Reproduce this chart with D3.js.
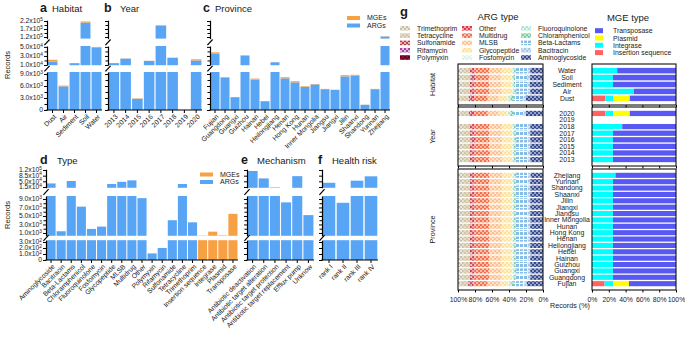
<!DOCTYPE html>
<html><head><meta charset="utf-8">
<script src="https://cdn.jsdelivr.net/npm/d3@7"></script>
<style>
body{margin:0;background:#fff}
svg{display:block}
text{font-family:"Liberation Sans",Arial,Helvetica,sans-serif;fill:#1a1a1a}
</style>
</head><body>
<svg id="c" width="685" height="337"></svg>
<script>
// ---------------- DATA ----------------
const habitatCats=["Dust","Air","Sediment","Soil","Water"];
const habitatARG=[17500,5900,14000,210000,49000];
const habitatMGE=[4000,200,300,7000,1000];

const yearCats=["2013","2014","2015","2016","2017","2018","2019","2020"];
const yearARG=[14000,24000,2800,19000,190000,26000,0,20000];
const yearMGE=[300,400,100,300,4000,200,0,2500];

const provinceCats=["Fujian","Guangdong","Guangxi","Guizhou","Hainan","Hebei","Heilongjiang","Henan","Hong Kong","Hunan","Inner Mongolia","Jiangsu","Jiangxi","Jilin","Shaanxi","Shandong","Yunnan","Zhejiang"];
const provinceARG=[35000,8000,3200,31000,7600,2200,16000,7900,6900,5800,6400,5200,5000,8400,8600,1300,5200,123000];
const provinceMGE=[3000,200,50,300,250,30,200,300,300,150,100,80,80,300,200,30,80,1500];

const typeCats=["Aminoglycoside","Bacitracin","Beta-Lactams","Chloramphenicol","Fluoroquinolone","Fosfomycin","Glycopeptide","MLSB","Multidrug","Other","Polymyxin","Rifamycin","Sulfonamide","Tetracycline","Trimethoprim","Insertion sequence","Integrase","Plasmid","Transposase"];
const typeARG=[37000,1400,52000,7200,1950,2500,33500,47000,56000,9200,110,200,4000,33500,3500,0,0,0,0];
const typeMGE=[0,0,0,0,0,0,0,0,0,0,0,0,0,0,0,400,1300,450,5500];

const mechCats=["Antibiotic deactivation","Antibiotic target alteration","Antibiotic target protection","Antibiotic target replacement","Efflux pump","Unknow"];
const mechARG=[114000,68000,13000,8200,82000,5200];
const mechMGE=[0,0,0,0,0,0];

const riskCats=["rank I","rank II","rank III","rank IV"];
const riskARG=[41000,8100,54000,81000];
const riskMGE=[0,0,0,0];

// tick values of the broken axes
const topTicksLow=[0,3000,6000,9000], topTicksMid=[10000,30000,50000], topTicksHigh=[120000,170000,220000];
const topMinorLow=[1500,4500,7500], topMinorMid=[20000,40000], topMinorHigh=[145000,195000];
const botTicksLow=[0,100,200,300], botTicksMid=[1000,3000,5000,7000,9000], botTicksHigh=[15000,50000,85000,120000];
const botMinorMid=[2000,4000,6000,8000];

// panel g composition (%)
const argTypes=["Trimethoprim","Tetracycline","Sulfonamide","Rifamycin","Polymyxin","Other","Multidrug","MLSB","Glycopeptide","Fosfomycin","Fluoroquinolone","Chloramphenicol","Beta-Lactams","Bacitracin","Aminoglycoside"];
const mgeTypes=["Insertion sequence","Integrase","Plasmid","Transposase"];

const argHabitat=[ // Dust, Air, Sediment, Soil, Water
 [3,10,1.5,1.5,0.5,2.5,16,13,10,1,3,4,11,3,20],
 [6,8,1.5,1,0.5,2.5,17,15,12,1,2,2,13.5,3,15],
 [5.5,8.5,1.5,1,0.5,2.5,17,15,11.5,1,1.5,2,14,3,15.5],
 [6,8.5,1.5,1,0.5,2.5,16,14,12,1,1.5,2,14,3.5,15],
 [6,8,1.5,1,0.5,2.5,17,15,12,1,1.5,2,14,3,15]
];
const argYear=[ // 2013..2020
 [6,8,1.5,1,0.5,2.5,17,16,11,1,1.5,2,14,3,15],
 [6,8,1.5,1,0.5,2.5,18,15,11,1,1.5,2,14,3,15],
 [6,8,1.5,1,0.5,2.5,17,15,12,1,1.5,2,14,3,15],
 [6,8.5,1.5,1,0.5,2.5,17,15,12,1,1.5,2,13.5,3,15],
 [6,8,1.5,1,0.5,2.5,17,15,12,1,1.5,2,14,3,15],
 [6,8,1.5,1,0.5,2.5,17,15,12,1,1.5,2,14,3,15],
 [0,0,0,0,0,0,0,0,0,0,0,0,0,0,0],
 [3,10,1.5,1.5,0.5,2.5,16,13,10,1,3,4,11,3,20]
];
const argProvince=[ // Fujian..Zhejiang
 [3,9,1.5,1.5,0.5,2.5,17,15,9,1,3,3,12,3,19],
 [6,8,1.5,1,0.5,2.5,17,15,12,1,1.5,2,14,3,15],
 [6,8,1.5,1,0.5,2.5,17,15,12,1,2,2,13.5,3,15],
 [6,8,1.5,1,0.5,2.5,17,15,12,1,1.5,2,14,3,15],
 [6,8,1.5,1,0.5,2.5,17,15,12,1,1.5,2,14,3,15],
 [6,8,1.5,1,0.5,2.5,17,15,12,1,1.5,2,14,3,15],
 [6,8,1.5,1,0.5,2.5,17,15,12,1,1.5,2,14,3,15],
 [6,8,1.5,1,0.5,2.5,17,15,12,1,1.5,2,14,3,15],
 [6,8,1.5,1,0.5,2.5,17,15,12,1,1.5,2,14,3,15],
 [6,8,1.5,1,0.5,2.5,17,15,12,1,1.5,2,14,3,15],
 [6,8,1.5,1,0.5,2.5,17,15,12,1,1.5,2,14,3,15],
 [6,8,1.5,1,0.5,2.5,17,15,12,1,1.5,2,14,3,15],
 [6,8,1.5,1,0.5,2.5,17,15,12,1,1.5,2,14,3,15],
 [6,8,1.5,1,0.5,2.5,17,15,12,1,1.5,2,14,3,15],
 [6,8,1.5,1,0.5,2.5,17,15,12,1,1.5,2,14,3,15],
 [6,8,1.5,1,0.5,2.5,17,15,12,1,1.5,2,14,3,15],
 [6,8,1.5,1,0.5,2.5,17,15,12,1,1.5,2,14,3,15],
 [6,8,1.5,1,0.5,2.5,17,15.5,12,1,1.5,2,14,3,14.5]
];
const mgeHabitat=[[16,9,20,55],[0,50,0,50],[0,25,0,75],[0,25,0,75],[0,30,0,70]];
const mgeYear=[[0,25,0,75],[0,25,0,75],[0,25,0,75],[0,25,0,75],[0,25,0,75],[0,36,0,64],[0,0,0,0],[16,9,20,55]];
const mgeProvince=[[15,10,19,56],[0,25,0,75],[0,25,0,75],[0,25,0,75],[0,25,0,75],[0,25,0,75],[0,25,0,75],[0,25,0,75],[0,25,0,75],[0,25,0,75],[0,25,0,75],[0,25,0,75],[0,25,0,75],[0,25,0,75],[0,25,0,75],[0,25,0,75],[0,25,0,75],[0,28,0,72]];
const pctTicks=[0,20,40,60,80,100];

// ---------------- STYLE ----------------
const BLUE="#58a5f6", ORANGE="#f8a044";
const argStyles=[
 {base:"#ebe7dd",fg:"#c8bfaa"},{base:"#e4dbc4",fg:"#d3c7a8"},{base:"#eeb0b0",fg:"#b8404c"},
 {base:"#e6b8e3",fg:"#a3479c"},{base:"#8a1030",fg:"#6a0020"},{base:"#f7a0a6",fg:"#e0384a"},
 {base:"#fcbca6",fg:"#f2704e"},{base:"#fee3c8",fg:"#fbc296"},{base:"#fff2c8",fg:"#fde1a0"},
 {base:"#f1fbf6",fg:"#daf3e7"},{base:"#e0f5eb",fg:"#b3e4cf"},{base:"#c2eacf",fg:"#7ecb9f"},
 {base:"#ffffff",fg:"#86bde8"},{base:"#d3e4f4",fg:"#a9c8e8"},{base:"#94a2cc",fg:"#3a4b8c"}
];
const mgeColors={"Insertion sequence":"#ff6262","Integrase":"#00ffff","Plasmid":"#ffff00","Transposase":"#5858f2"};

const svg=d3.select("#c");
const defs=svg.append("defs");
argStyles.forEach((s,i)=>{
  const p=defs.append("pattern").attr("id","pat"+i).attr("patternUnits","userSpaceOnUse").attr("width",4).attr("height",4);
  p.append("rect").attr("width",4).attr("height",4).attr("fill",s.base);
  if(i===12){
    p.append("rect").attr("x",0).attr("y",0).attr("width",3).attr("height",3).attr("fill",s.fg);
  } else {
    p.append("rect").attr("x",0).attr("y",0).attr("width",2).attr("height",2).attr("fill",s.fg);
    p.append("rect").attr("x",2).attr("y",2).attr("width",2).attr("height",2).attr("fill",s.fg);
  }
});

function sciLabel(sel,v){
  if(v===0){sel.text("0");return;}
  const [m,e]=v.toExponential(1).split("e");
  sel.append("tspan").text(m+"x10");
  sel.append("tspan").attr("dy",-2.8).attr("font-size",4.8).text(+e);
}

function barPanel(o){
  const g=svg.append("g");
  const x=d3.scaleBand().domain(o.cats).range([o.x0,o.x1]).paddingInner(0.1).paddingOuter(0.05);
  const segs=o.segs.map(s=>Object.assign({},s,{sc:d3.scaleLinear().domain(s.d).range(s.r)}));
  const pieces=[];
  o.cats.forEach((c,i)=>{
    const parts=[{f:0,t:o.arg[i],col:BLUE},{f:o.arg[i],t:o.arg[i]+o.mge[i],col:ORANGE}];
    parts.forEach(p=>{
      if(p.t<=p.f) return;
      segs.forEach(s=>{
        if(p.t<=s.d[0]||p.f>=s.d[1]) return;
        pieces.push({c,col:p.col,y0:s.sc(Math.max(p.f,s.d[0])),y1:s.sc(Math.min(p.t,s.d[1]))});
      });
    });
  });
  g.selectAll("rect.bar").data(pieces).join("rect").attr("class","bar")
    .attr("x",d=>x(d.c)).attr("width",x.bandwidth())
    .attr("y",d=>d.y1).attr("height",d=>Math.max(0,d.y0-d.y1)).attr("fill",d=>d.col);
  // y axis segments
  segs.forEach(s=>{
    const ax=g.append("g").attr("transform",`translate(${o.x0},0)`)
      .call(d3.axisLeft(s.sc).tickValues(s.major).tickSize(3).tickSizeOuter(0).tickFormat(""));
    ax.select(".domain").attr("stroke","#000").attr("stroke-width",1.2);
    ax.selectAll(".tick line").attr("stroke","#000").attr("stroke-width",1);
    if(s.minor&&s.minor.length){
      const mx=g.append("g").attr("transform",`translate(${o.x0},0)`)
        .call(d3.axisLeft(s.sc).tickValues(s.minor).tickSize(2.5).tickFormat(""));
      mx.select(".domain").remove();
      mx.selectAll(".tick line").attr("stroke","#000").attr("stroke-width",1);
    }
    if(o.labels){
      s.major.forEach(v=>{
        const t=g.append("text").attr("x",o.x0-4).attr("y",s.sc(v)+2.4)
          .attr("text-anchor","end").attr("font-size",6.8);
        sciLabel(t,v);
      });
    }
  });
  o.breaks.forEach(yb=>{
    g.append("line").attr("x1",o.x0-2.6).attr("y1",yb+2.8).attr("x2",o.x0+2.6).attr("y2",yb-2.8)
      .attr("stroke","#000").attr("stroke-width",1.2);
  });
  // x axis
  const xa=g.append("g").attr("transform",`translate(0,${o.base})`)
    .call(d3.axisBottom(x).tickSize(3).tickSizeOuter(0).tickFormat(""));
  xa.select(".domain").attr("stroke","#000").attr("stroke-width",1.2)
    .attr("d",`M${o.x0-0.6},0H${o.x1}`);
  xa.selectAll(".tick line").attr("stroke","#000");
  g.selectAll("text.xl").data(o.cats).join("text").attr("class","xl")
    .attr("transform",c=>`translate(${x(c)+x.bandwidth()/2+2.5},${o.base+5.5}) rotate(-45)`)
    .attr("text-anchor","end").attr("dy","0.35em").attr("font-size",6.8).text(c=>c);
  // title
  g.append("text").attr("x",o.lx).attr("y",o.ty).attr("font-size",12.5).attr("font-weight","bold").text(o.letter);
  g.append("text").attr("x",o.tx).attr("y",o.ty).attr("font-size",9.5).text(o.title);
}

const topSegs=[
 {d:[0,9500],r:[110,72],major:topTicksLow,minor:topMinorLow},
 {d:[9500,52000],r:[65.2,46],major:topTicksMid,minor:topMinorMid},
 {d:[110000,225000],r:[38.6,20.2],major:topTicksHigh,minor:topMinorHigh}
];
const botSegs=[
 {d:[0,330],r:[260,240.2],major:botTicksLow,minor:[]},
 {d:[330,9700],r:[235.8,196],major:botTicksMid,minor:botMinorMid},
 {d:[10000,125000],r:[187.8,169.2],major:botTicksHigh,minor:[]}
];
const topBreaks=[68.6,42.3], botBreaks=[238,192];

barPanel({cats:habitatCats,arg:habitatARG,mge:habitatMGE,x0:47,x1:102,segs:topSegs,breaks:topBreaks,base:110,labels:true,letter:"a",title:"Habitat",lx:40,tx:52,ty:12});
barPanel({cats:yearCats,arg:yearARG,mge:yearMGE,x0:108,x1:202,segs:topSegs,breaks:topBreaks,base:110,labels:false,letter:"b",title:"Year",lx:104,tx:120,ty:12});
barPanel({cats:provinceCats,arg:provinceARG,mge:provinceMGE,x0:210,x1:390,segs:topSegs,breaks:topBreaks,base:110,labels:false,letter:"c",title:"Province",lx:203,tx:215,ty:12});
barPanel({cats:typeCats,arg:typeARG,mge:typeMGE,x0:46,x1:238,segs:botSegs,breaks:botBreaks,base:260,labels:true,letter:"d",title:"Type",lx:40,tx:57,ty:164});
barPanel({cats:mechCats,arg:mechARG,mge:mechMGE,x0:247,x1:314,segs:botSegs,breaks:botBreaks,base:260,labels:false,letter:"e",title:"Mechanism",lx:241,tx:257,ty:164});
barPanel({cats:riskCats,arg:riskARG,mge:riskMGE,x0:322,x1:378,segs:botSegs,breaks:botBreaks,base:260,labels:false,letter:"f",title:"Health risk",lx:318,tx:332,ty:164});

// y labels
svg.append("text").attr("transform","translate(10,65) rotate(-90)").attr("text-anchor","middle").attr("font-size",7.5).text("Records");
svg.append("text").attr("transform","translate(10,215) rotate(-90)").attr("text-anchor","middle").attr("font-size",7.5).text("Records");

// legends for bar panels
function barLegend(x,y){
  [["MGEs",ORANGE],["ARGs",BLUE]].forEach((d,i)=>{
    svg.append("rect").attr("x",x).attr("y",y+i*7.5).attr("width",13).attr("height",4).attr("fill",d[1]);
    svg.append("text").attr("x",x+20).attr("y",y+i*7.5+4.2).attr("font-size",7).text(d[0]);
  });
}
barLegend(347,16);
barLegend(200,172.5);

// ---------------- PANEL g ----------------
svg.append("text").attr("x",400).attr("y",16).attr("font-size",13).attr("font-weight","bold").text("g");
svg.append("text").attr("x",498).attr("y",20).attr("text-anchor","middle").attr("font-size",9.5).text("ARG type");
svg.append("text").attr("x",628).attr("y",21).attr("text-anchor","middle").attr("font-size",9.5).text("MGE type");

const legCols=[[0,1,2,3,4],[5,6,7,8,9],[10,11,12,13,14]];
const legX=[400,462,521];
legCols.forEach((col,ci)=>{
  col.forEach((k,ri)=>{
    const cy=28.3+ri*7.3;
    svg.append("rect").attr("x",legX[ci]).attr("y",cy-2.3).attr("width",10).attr("height",4.6).attr("fill",`url(#pat${k})`);
    svg.append("text").attr("x",legX[ci]+17).attr("y",cy+2.5).attr("font-size",6.9).text(argTypes[k]);
  });
});
mgeTypes.slice().reverse().forEach((m,ri)=>{
  const cy=30.7+ri*7.3;
  svg.append("rect").attr("x",595).attr("y",cy-2.5).attr("width",8).attr("height",5).attr("fill",mgeColors[m]);
  svg.append("text").attr("x",613).attr("y",cy+2.5).attr("font-size",6.9).text(m);
});

const argX=d3.scaleLinear().domain([100,0]).range([458,543]);
const mgeX=d3.scaleLinear().domain([0,100]).range([592,676]);
const groups=[
 {name:"Habitat",cats:habitatCats,arg:argHabitat,mge:mgeHabitat,y0:64,y1:105},
 {name:"Year",cats:yearCats,arg:argYear,mge:mgeYear,y0:107,y1:166},
 {name:"Province",cats:provinceCats,arg:argProvince,mge:mgeProvince,y0:169,y1:290}
];
const argStack=d3.stack().keys(argTypes);
const mgeStack=d3.stack().keys(mgeTypes);
groups.forEach((G,gi)=>{
  const g=svg.append("g");
  const y=d3.scaleBand().domain(G.cats.slice().reverse()).range([G.y0+2.5,G.y1-2.5]).padding(0.2);
  const norm=(rows,keys)=>rows.map((r,i)=>{const s=d3.sum(r);const o={cat:G.cats[i]};keys.forEach((k,j)=>o[k]=s>0?r[j]/s*100:0);return o;});
  const aS=argStack(norm(G.arg,argTypes));
  aS.forEach((layer,k)=>{
    g.selectAll(null).data(layer).join("rect")
      .attr("x",d=>argX(100-d[0])).attr("width",d=>Math.max(0,argX(100-d[1])-argX(100-d[0])))
      .attr("y",d=>y(d.data.cat)).attr("height",y.bandwidth()).attr("fill",`url(#pat${k})`);
  });
  const mS=mgeStack(norm(G.mge,mgeTypes));
  mS.forEach(layer=>{
    g.selectAll(null).data(layer).join("rect")
      .attr("x",d=>mgeX(d[0])).attr("width",d=>Math.max(0,mgeX(d[1])-mgeX(d[0])))
      .attr("y",d=>y(d.data.cat)).attr("height",y.bandwidth()).attr("fill",mgeColors[layer.key]);
  });
  // frames
  [[458,543],[592,676]].forEach(r=>{
    g.append("rect").attr("x",r[0]).attr("y",G.y0).attr("width",r[1]-r[0]).attr("height",G.y1-G.y0)
      .attr("fill","none").attr("stroke","#111").attr("stroke-width",1.1);
  });
  // axes ticks
  const last=gi===groups.length-1;
  [argX,mgeX].forEach(sc=>{
    const ax=g.append("g").attr("transform",`translate(0,${G.y1})`)
      .call(d3.axisBottom(sc).tickValues(pctTicks).tickSize(2.5).tickSizeOuter(0).tickFormat(last?(d=>d+"%"):""));
    ax.select(".domain").remove();
    ax.selectAll(".tick line").attr("stroke","#000");
    ax.selectAll("text").attr("font-size",6.9).attr("fill","#1a1a1a").attr("font-family","Liberation Sans, Arial, sans-serif").attr("dy","0.9em");
  });
  // category labels
  g.selectAll("text.cl").data(G.cats).join("text").attr("class","cl")
    .attr("x",567).attr("y",c=>y(c)+y.bandwidth()/2+2.4).attr("text-anchor","middle").attr("font-size",6.9).text(c=>c);
  // group label
  g.append("text").attr("transform",`translate(435,${(G.y0+G.y1)/2}) rotate(-90)`)
    .attr("text-anchor","middle").attr("font-size",7.2).text(G.name);
});
svg.append("text").attr("x",570).attr("y",308).attr("text-anchor","middle").attr("font-size",7.2).text("Records (%)");
</script>
</body></html>
